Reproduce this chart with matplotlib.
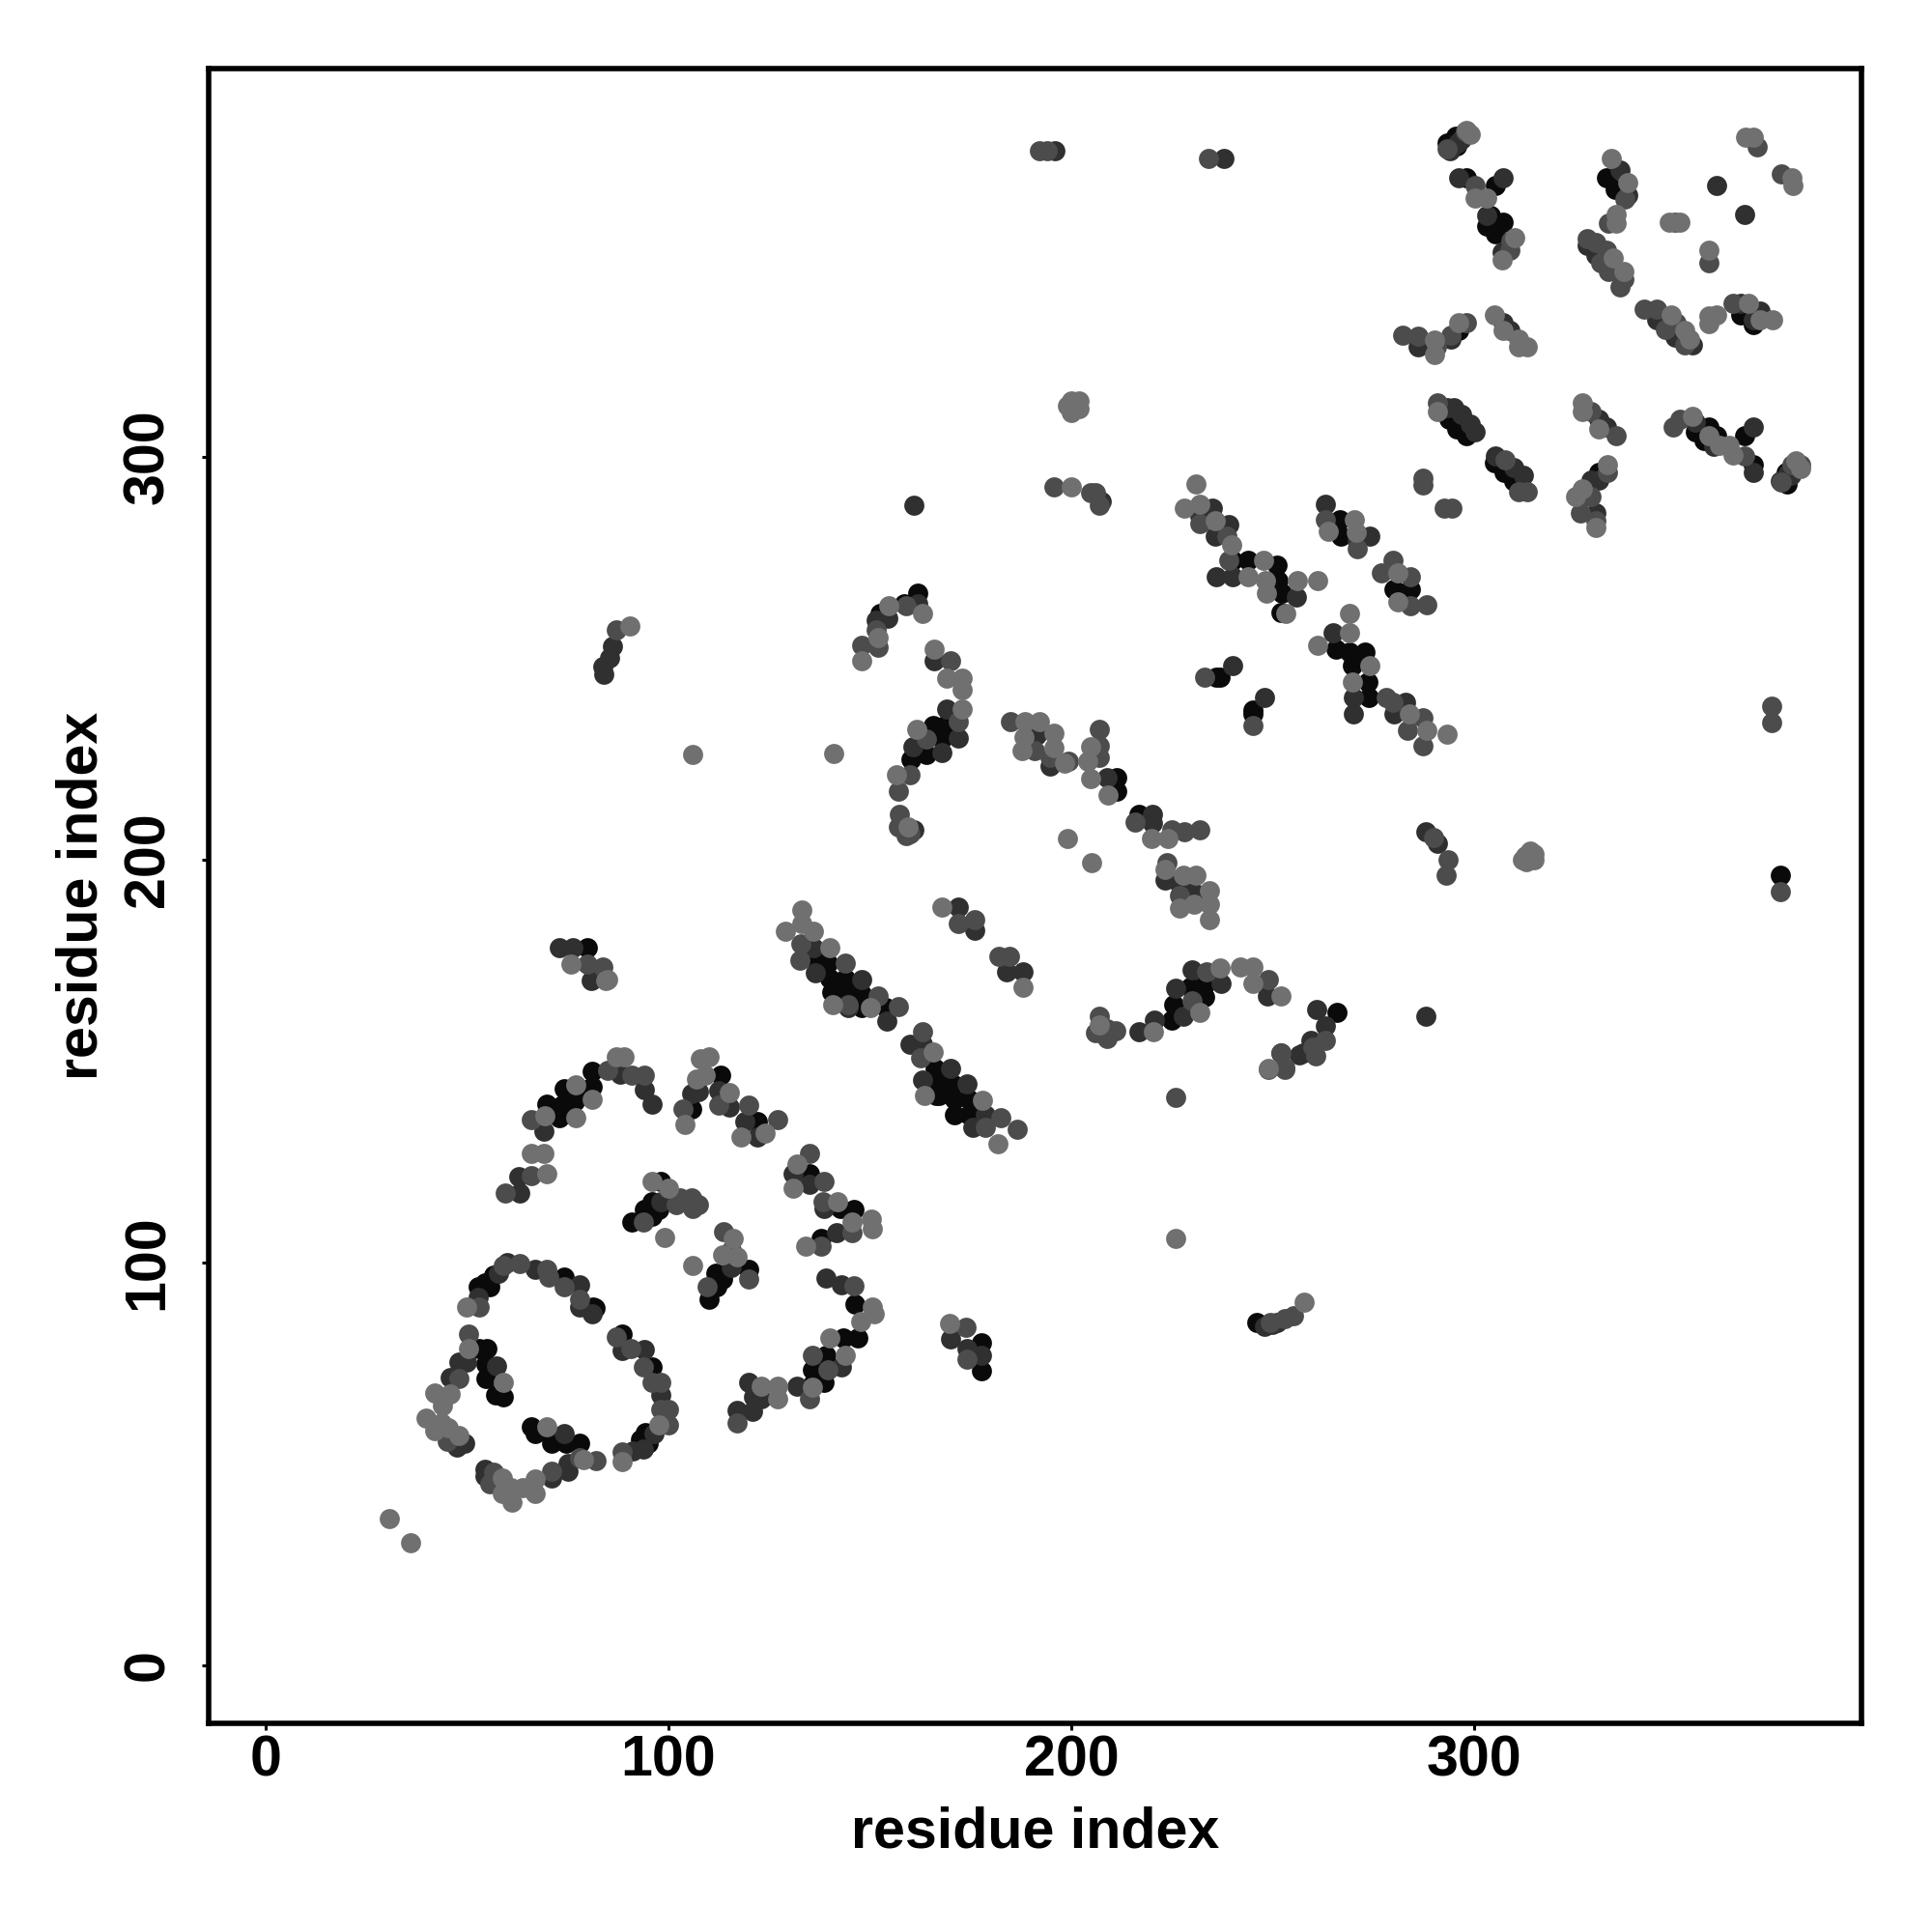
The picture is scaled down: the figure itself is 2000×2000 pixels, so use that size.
# -*- coding: utf-8 -*-
"""
Contact map, residue index against residue index
"""
import matplotlib
matplotlib.use('Agg')
import matplotlib.pyplot as plt

plt.rcParams['font.family'] = ['Liberation Sans', 'DejaVu Sans']

xticks = [0, 100, 200, 300]
yticks = [0, 100, 200, 300]
xlabel = 'residue index'
ylabel = 'residue index'

# (x, y) contacts, one list per grey level
black_points = [
    (69.8,139.2),(72.8,135.8),(73.7,139),(74,143),(76.7,140),(78,143),(81,143.6),(81,147.3),
    (105.8,138),(113,146.4),(122,135),(135,122),(142.6,113.4),(146,113),(138,106),
    (98,120),(96,115),(97.6,113),(94,113),(96,111.5),(90.8,110),(120,98.2),(111.8,97.3),
    (113.5,95.9),(112,94),(110,90.9),(146.4,89.5),(143.4,81.2),(147,81.2),(139,77),
    (135.7,73.4),(138.7,70.2),(135.7,69.8),(52.7,94),(54.4,95),(56.5,96.8),(55.7,94),
    (74,96.4),(81.4,89),(81.8,88.6),(88.6,82.2),(96,74),(94.2,57.8),(93,56),(95,55),
    (53,78.5),(55,78.5),(54.8,74.8),(54.8,71.1),(57,67),(59,66.6),(66,59.2),(66.8,57.4),
    (70.7,56.9),(71,55),(74.5,55),(78,55),(162,266.2),(158.5,263.4),(152.5,261.2),
    (165.8,233.4),(168.6,233.4),(168,230),(164,226.1),(160.3,225),(211.3,220.3),(211.3,217),
    (216.8,211.3),(136.5,175.2),(139.7,174.3),(143.8,170.5),(140,170.5),(140.6,167),
    (144.3,167),(148,166.6),(148,163.2),(154,163.2),(166.3,148.2),(166.8,145.2),(170.4,144.4),
    (167.2,141.4),(170.9,140.5),(174.6,140.5),(174.7,136.7),(171,136.7),(166.5,141.3),
    (79.9,178),(225,160.2),(225.5,164),(233,165.8),(229.6,168.3),(233.3,169.2),(266,162),
    (246,85),(177.8,80),(177.8,73),(240,274.2),(244,274.2),(251,273.2),(251.4,269.2),
    (252.2,266.2),(252,261.4),(266.6,284.4),(267,280.4),(280.2,267.2),(284.2,267.2),
    (265.8,252.2),(269,251.4),(273,251.4),(269.8,248.2),(273.6,244),(274,240.2),
    (236,245.2),(237,245.2),(245,237.2),(245,236.2),(295.4,379.7),(293.4,378),(295.8,377.3),
    (298.2,369.3),(305.2,367.3),(304.2,360),(303.2,357.3),(307.2,358.3),(305.4,355.3),
    (333,369.3),(335,366.5),(366.2,335.3),(369.4,332.9),(296.2,331.3),(293.8,309.3),
    (295.8,306.9),(298.2,305.3),(305,298.5),(307.4,296.1),(309.8,293.9),(331,296.1),
    (355,306.1),(358.2,307.3),(357,304.1),(360.2,305.3),(367.2,305.3),(369.4,298.1),
    (377.4,296.1),(377.8,293.3),(376,196),
]
dark_points = [
    (63,117.3),(62.8,121.2),(69,132.6),(88,146.8),(94,142.9),(96,139.2),(105.8,141.8),
    (107.5,142.3),(112.6,142.7),(115,138.6),(119,135),(122,131.2),(131,122),(135,119.3),
    (138.7,113.4),(141.7,107.4),(98,115),(115.6,98.7),(139,96.2),(143,94.3),(143,73.9),
    (132,69.3),(120,70.2),(121,66.6),(123,66),(120.8,62.9),(117,63.2),(52.7,91.3),
    (57.8,97.3),(60,100),(66.8,98.2),(78,94.3),(78,89),(81,87.2),(88.6,78),(94,78.3),
    (98,67),(96.4,57.4),(93.8,53.7),(91.2,53.2),(48,75.3),(50,75.3),(57.2,74.3),(45.8,71.3),
    (47.6,54.2),(49.3,55),(74,57.4),(75,50),(75,48),(71,46.4),(54.4,48.7),(54.4,46.8),
    (81,170.2),(72.8,178),(76.2,178),(80.8,170),(86,253),(85.4,250),(83.8,248),(84,246),
    (162,263.4),(154.4,260),(151.6,259.5),(166,249.3),(169,237.3),(172,230.2),(160.8,228.1),
    (168,226.6),(161,207.3),(191.5,230.8),(194.8,223.1),(209,220.3),(220.2,211.2),(220.2,209),
    (223.2,194.9),(226.8,194),(230.5,191.9),(172,188.2),(176,182.5),(184,172.2),(188,172.2),
    (136,178.2),(136.5,171.8),(148,170.3),(144.7,163.2),(154.1,159.8),(160,154.2),(163,154.2),
    (170,148.2),(163,145.2),(174,144.4),(178.7,136.7),(175.6,133.6),(208,156.8),(216.8,157.2),
    (220.7,160.2),(227.8,161.2),(237.2,169.2),(226,168),(230,172.5),(248.7,166.2),(261,162.7),
    (263,158.7),(256.7,151.4),(252,152),(257.6,152),(259.4,155),(170,81),(174,78.6),(177.8,77),
    (235,287.2),(232,285.4),(239,283.2),(235.8,280.2),(207.4,289),(236,270.2),(240,270.2),
    (256,265.2),(263,288.2),(274.2,280.2),(271,279),(265,256.2),(270,240.2),(270,236.2),
    (283,239),(280.2,236.2),(240,248.2),(248,240.2),(296.2,369.3),(307.2,369.3),(303.2,360),
    (307,350.9),(336.2,371.3),(338.2,364.9),(360.2,367.3),(367.2,360.1),(328.2,352.5),
    (330.2,350.1),(345.4,334.1),(349.8,329.7),(354.2,327.9),(366.2,338.1),(371,336.1),
    (369.4,334.1),(286.2,327.3),(294.2,329.3),(307.2,333.3),(309,331.3),(293.4,312.1),
    (295,312.1),(297,310.5),(299,308.1),(300.2,306.1),(305.4,300.1),(309.8,297.3),(312.2,295.3),
    (331,309.3),(333,307.3),(329,294.1),(331,294.1),(330.2,286.1),(355,308.5),(359.4,302.5),
    (369.4,307.3),(369.4,296.1),(378.6,295.3),(288,207),(291,204),(196,376),(238,374),(288,161),
    (161,288),(294,376),(296,378),(297,379),(376,294),(378,296),(250,84.5),(251,85),(248,84),
]
mid_points = [
    (59.5,117.3),(66,121.6),(66,135.4),(84.8,147.7),(90.8,146.4),(94,146.4),(103.6,138),
    (112.6,139),(120,139),(127,135.4),(135,127),(138.7,120),(138.3,115),(145.6,107.4),
    (138,104),(102.8,116),(105.8,116),(107.5,114.3),(106,113.4),(102,114.3),(93.8,110),
    (113.7,107.7),(115.6,103),(120,95.9),(109.6,94),(146,94.1),(135.7,77),(139.6,73.4),
    (135,66.1),(117,60.1),(53,89),(59,99.1),(63,99.6),(69.8,98.2),(70.2,96.4),(74,94),
    (78,90.9),(87,81.4),(90.6,78.5),(93.8,73.9),(96,70.2),(98,70.2),(98,63.4),(100,63.4),
    (100,59.7),(88.6,52.8),(50.4,82.2),(48,71.1),(45,55.6),(78,51.4),(82,50.8),(71,48.2),
    (56.5,47.8),(55.7,45),(79.9,174),(83.8,173.4),(87,257),(159,263),(151.6,257),(152,252.7),
    (148,253.3),(170,249.3),(172,234.3),(164,230),(160,221),(157,216.9),(157.4,211.3),
    (157,208.2),(185,234.3),(191,227),(194.8,225.3),(199.3,224.4),(207,232.4),(207,228.3),
    (207,225.3),(215.8,209.4),(225,207.3),(228,206.9),(232,207.3),(223.8,199.2),(226.8,191),
    (172,184.2),(176,185),(182,176),(184.6,176),(132.8,179),(132.6,175),(143.8,174.3),
    (152,166.2),(144.7,164),(157.1,163.4),(163,157.2),(162.6,150.8),(178.7,133.6),(182.4,135.8),
    (186.7,133),(207,161),(211,157.6),(230,165),(233.7,172.2),(249,170.2),(263,155),(260,153.5),
    (253,148.3),(249,148),(260.7,151.3),(253,148),(252,152),(249.5,85),(253,86),(255.2,86.8),
    (173.8,83.8),(174,76),(232,283.4),(238.6,280.2),(239,274.2),(263,284.4),(271,277.2),
    (280,274.2),(277,271.2),(284.2,270.2),(284.2,263),(288.2,263.2),(278.2,240.2),(279.8,239),
    (287.2,235.2),(283.4,232.2),(287.2,228.2),(233,245.2),(245,233.2),(287.2,294.6),(287.2,293),
    (292.6,287.2),(294.6,287.2),(297.8,380.9),(293.4,376.5),(300.2,367.3),(309.2,353.7),(309,351.3),
    (337.4,364),(333.4,358.1),(349.8,358.3),(358.2,348.3),(370.2,376.9),(376.2,370.3),(328.2,354.1),
    (330.2,353.3),(333,351.3),(331.4,348.1),(333.4,346.1),(337.2,344.1),(336.2,342.1),(342.2,336.7),
    (345.4,336.7),(350.2,333.3),(347.4,331.7),(352.2,327.9),(364.2,338.1),(282.2,330.1),(286.2,329.9),
    (290.6,327.3),(294.2,330.1),(298.2,333.3),(291,313.3),(307.8,299.3),(311,291.3),(313.2,291.3),
    (329,311.3),(335.2,305.3),(333.2,296.1),(329,290.1),(327,290.1),(326.4,286.1),(330.2,284.1),
    (351,309.3),(367.2,300.1),(381,298.1),(379,298.1),(376.2,293.7),(290,205.5),(293.5,200),
    (293,196),(192,376),(194,376),(234,374),(195.8,292.6),(204.7,291),(374,238),(374,234),
    (376,192),(226,141),(349.4,307.3),(158,208),(160,206.5),(159,206),(206,157),(209,155.5),
    (209,158),(206,291),(207,288),
]
light_points = [
    (30.7,36.3),(36,30.3),(66,127),(69,127),(69.8,122),(69.4,136.3),(77,136),(77,144),(81,140.4),
    (87,151),(89,151),(104,134.3),(107,145.5),(108,150.5),(110,151),(109.2,146.4),(115,142.2),
    (118,131.2),(124,132),(132,124.4),(131,118.4),(142,115),(150.3,110.6),(145.6,110),(150.7,108.3),
    (134,104),(96,120),(100,118.4),(99,106.2),(106,99.3),(116,106),(113.5,101.9),(117,101.4),
    (150.7,89),(151,87.2),(147.7,85.4),(140,81.2),(144,77),(135.7,68.9),(123,69.3),(127,69.3),
    (127,66.1),(49.9,89),(97.6,59.7),(88.6,50.5),(50.4,78.5),(59,70.2),(42,67.5),(45.8,67.3),
    (44,64.3),(39.8,61.2),(43.7,60.1),(42,58.3),(45.4,58.8),(48,56.9),(69.8,59.2),(78.8,51),
    (67,46.2),(67,42.7),(63.8,44),(60.8,44),(61.2,40.4),(58.7,42.7),(58.7,46.4),(84.8,170.2),
    (75.9,174),(84.5,170),(90.3,258),(163,261.2),(154.8,263),(152,255),(148,249.3),(166,252.2),
    (169,245.1),(173,245.1),(173,242.2),(173,237.3),(161.7,232.4),(156.7,221),(159.4,208.2),
    (105.9,226),(141,226.3),(188.5,234.3),(192,234.3),(188.3,230.4),(195.7,231.3),(195.7,227.8),
    (187.9,227),(198.4,224),(204.8,228.1),(204.1,224.4),(204.8,220.1),(209.1,216),(220,205.2),
    (224,205.2),(199,205.3),(205,199.2),(223.2,197.5),(227.8,196.2),(231,196.2),(234.2,192.3),
    (230.5,188.9),(234.2,188.9),(226.8,188),(234.2,185),(168,188.2),(188,168.2),(133,187.4),
    (133,184.2),(129,182.3),(136,182.3),(140,178.2),(140.8,163.9),(150.2,163.2),(165.8,152.3),
    (163.5,141.4),(178,140.3),(181.8,129.4),(207,159),(220.4,157.2),(232,162),(237,173),(242,173.2),
    (245,173.2),(245,169.2),(252,166.2),(248.9,148.2),(226,106),(257.7,90),(169.8,84.7),
    (231,293.2),(228,287.2),(232,288.2),(235.8,284.2),(239.8,278.2),(247.8,274.2),(244,270.2),
    (248.2,269.2),(256.2,269.2),(261.2,269.2),(248.4,266.2),(253.2,261.2),(270.2,284.4),(263.8,281.4),
    (270.8,281.2),(281,271.2),(281,264),(269,261.2),(269,256.2),(261.2,253.2),(274.2,248.2),
    (269.8,244.2),(284,236.2),(288.2,232.2),(293.2,231.2),(300.2,364.3),(303.2,364.3),(310.2,354.5),
    (307,349),(334.2,374.1),(338.2,368.1),(335.4,360.1),(335.4,358.1),(348.4,358.3),(351.2,358.3),
    (358.2,351.3),(367.4,379.3),(369.4,379.3),(379,369.3),(379.2,367.3),(334.6,349.3),(337.2,346.1),
    (349,335.3),(352.2,331.3),(353.4,329.3),(358.2,334.9),(360.2,335.3),(358.2,333.1),(368.2,338.1),
    (371,334.1),(374.2,334.1),(290.2,328.9),(290.2,325.3),(296.2,333.3),(305,335.3),(307.2,331.3),
    (311,329.3),(313.2,327.3),(311,327.3),(291,311.3),(327,313.3),(327,311.3),(331,306.9),(333.2,298.1),
    (327,292.1),(325.2,290.1),(330.2,282.5),(354.2,310.1),(358.2,305.3),(363.4,302.9),(361,302.9),
    (364.2,300.5),(312.7,201),(315,201.5),(312,200),(201,313),(201,312),(199,312.6),(200,292.6),
    (200,314),(202,314),(202,312),(200,311),(313,199.5),(314,202),(315,200),(298,381),(299,380),
    (381,297),(380,299),
]

levels = [(black_points, '#0a0a0a'), (dark_points, '#303030'),
          (mid_points, '#4c4c4c'), (light_points, '#707070')]

fig = plt.figure(figsize=(10, 10), dpi=200)
ax = fig.add_axes([216/2000, 1-1784/2000, 1711/2000, 1713/2000])

for points, colour in levels:
    xs = [p[0] for p in points]
    ys = [p[1] for p in points]
    ax.scatter(xs, ys, s=56, c=colour, linewidths=0, zorder=2)

ax.set_xlim(-14.15, 396.2)
ax.set_ylim(-14.5, 396.4)
ax.set_xticks(xticks)
ax.set_yticks(yticks)
for spine in ax.spines.values():
    spine.set_linewidth(2)
ax.tick_params(length=2.6, width=1.1, labelsize=21.3, pad=1.5)
for t in ax.get_xticklabels():
    t.set_fontweight('bold')
for t in ax.get_yticklabels():
    t.set_fontweight('bold')
    t.set_rotation(90)
    t.set_va('center')
ax.tick_params(axis='y', pad=10)
ax.set_xlabel(xlabel, fontsize=21.3, fontweight='bold', labelpad=7)
ax.set_ylabel(ylabel, fontsize=21.3, fontweight='bold', labelpad=5)

fig.savefig('out.png', dpi=200)
